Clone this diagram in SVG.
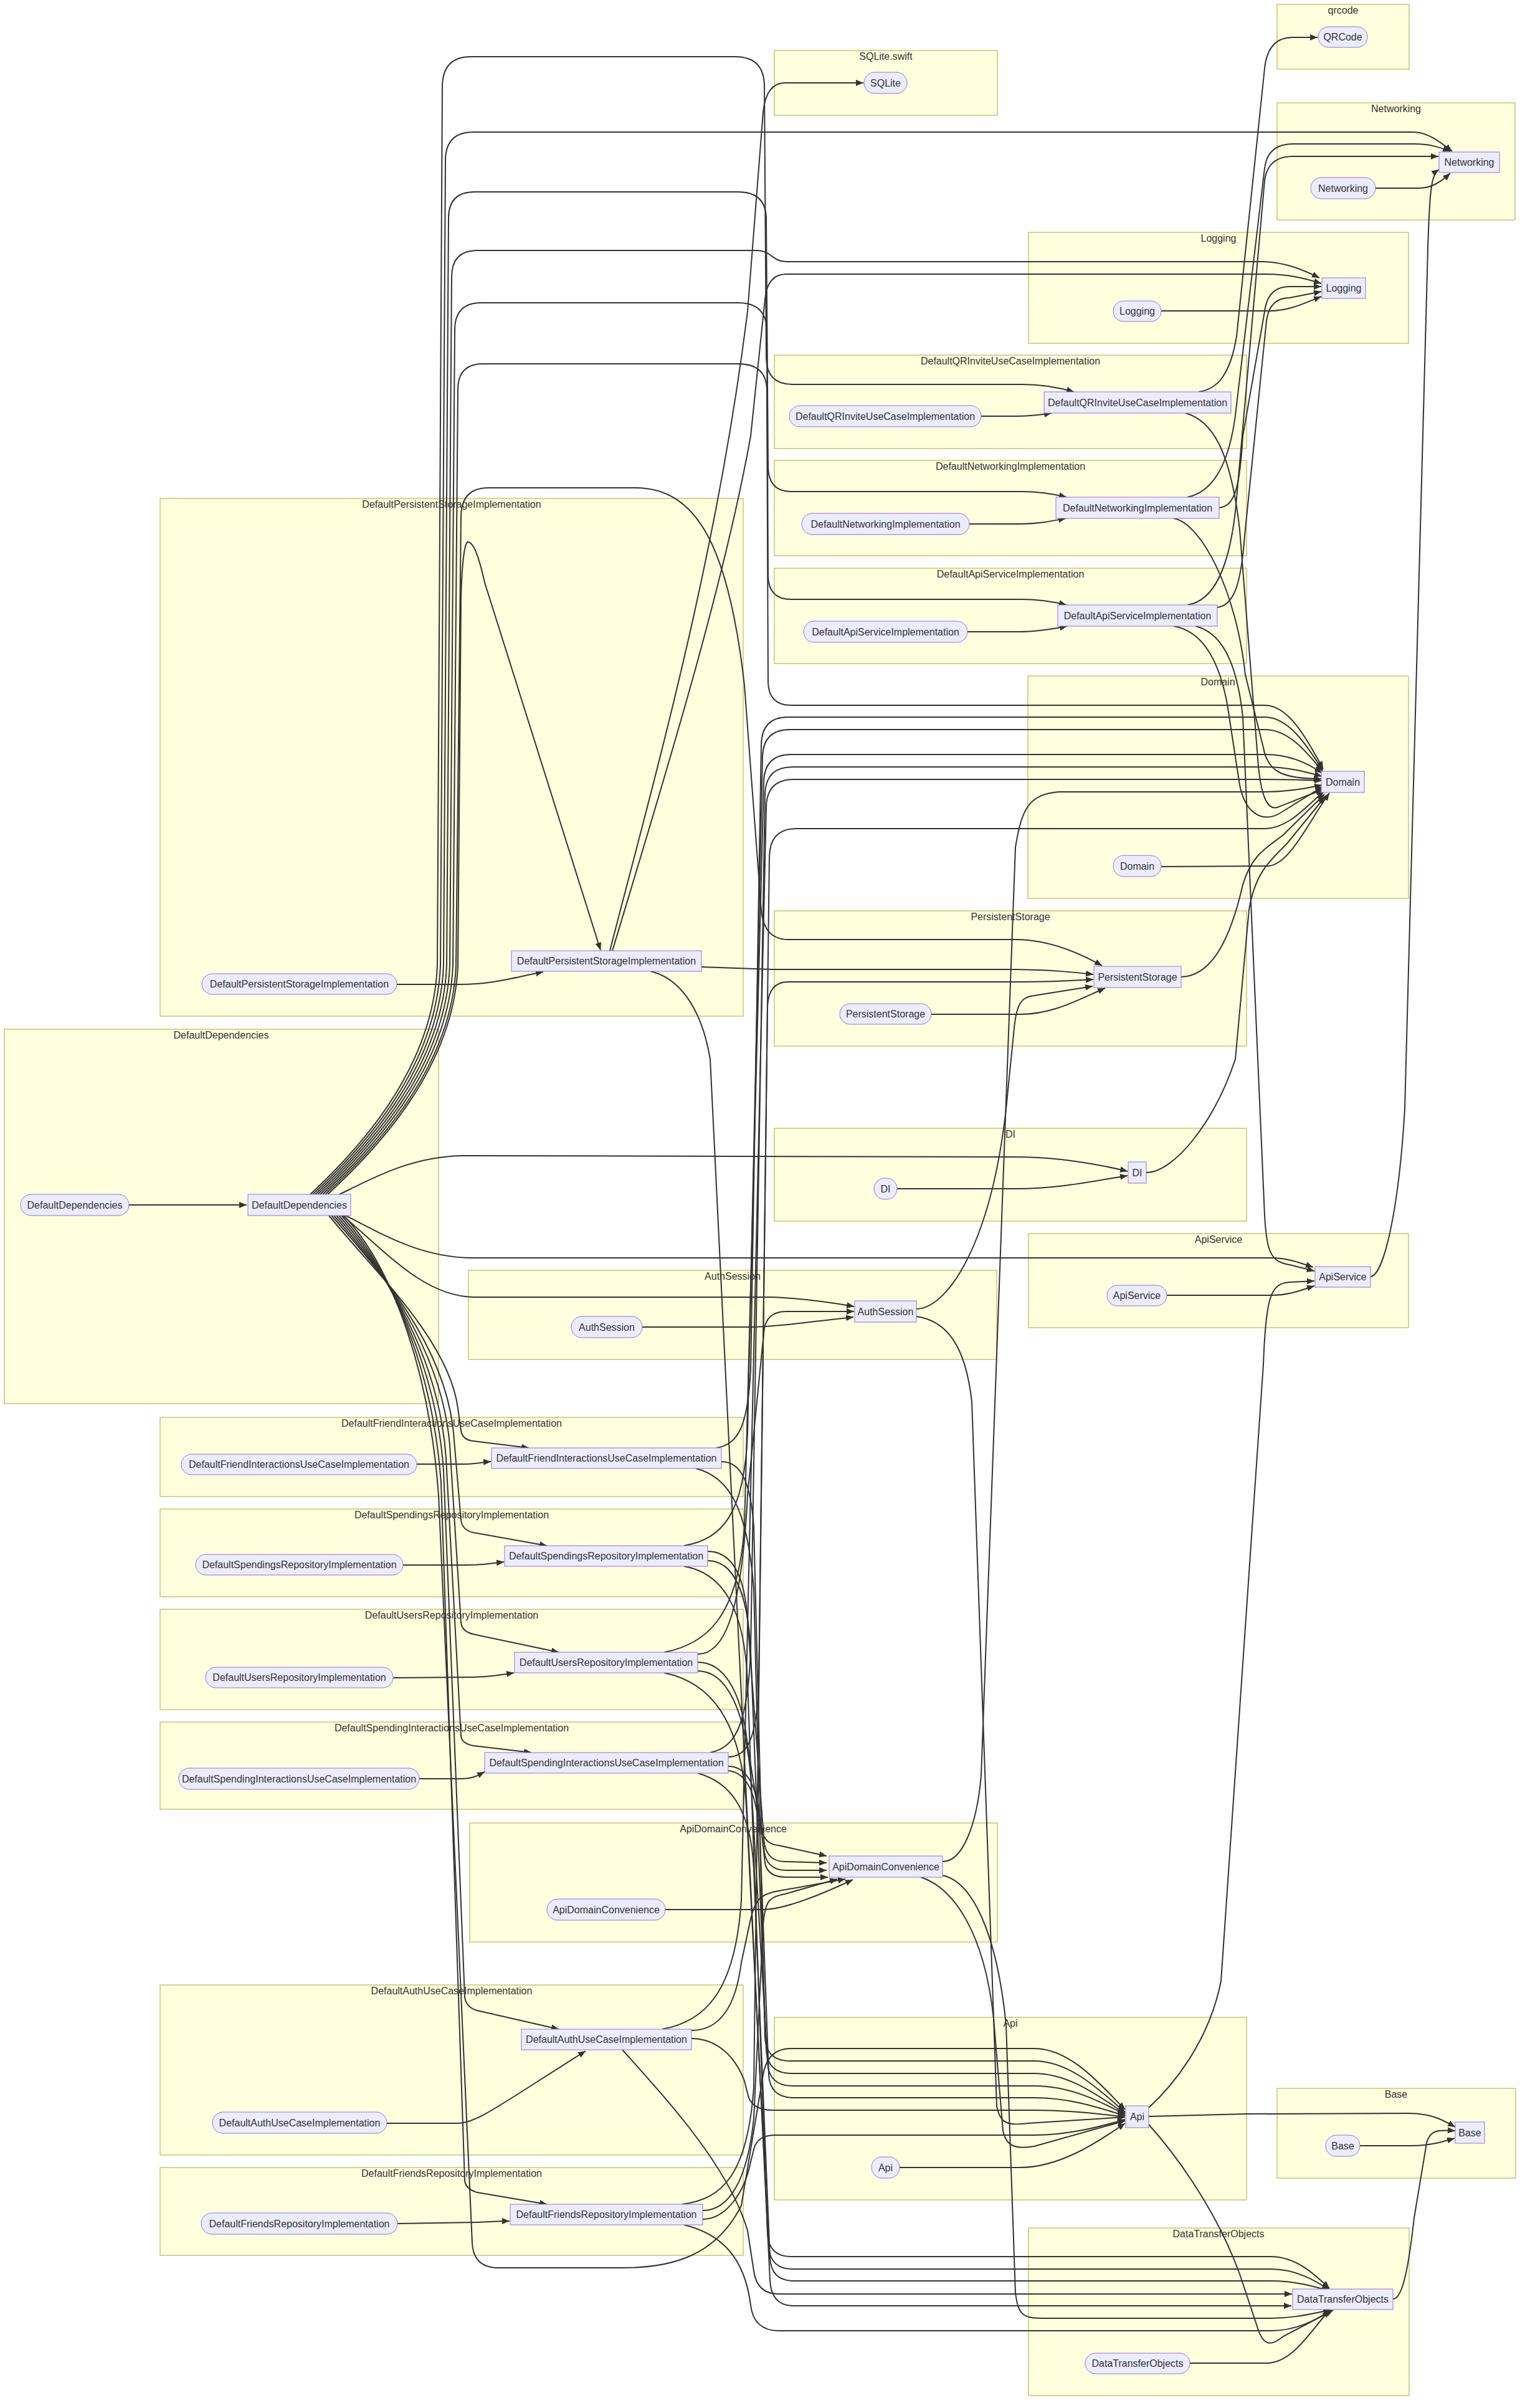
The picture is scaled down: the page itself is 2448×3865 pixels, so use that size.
<svg xmlns="http://www.w3.org/2000/svg" width="2448" height="3865" viewBox="0 0 2448 3865">
<style>
text{font-family:"Liberation Sans",Arial,sans-serif;font-size:16px;fill:#333;text-anchor:middle}
.cl rect{fill:#ffffde;stroke:#aaaa33;stroke-width:1}
.nd rect{fill:#ECECFF;stroke:#9370DB;stroke-width:1}
.ed path{fill:none;stroke:#333;stroke-width:2;marker-end:url(#arr)}
</style>
<defs>
<marker id="arr" viewBox="0 0 12 10" refX="12" refY="5" markerWidth="12" markerHeight="10" markerUnits="userSpaceOnUse" orient="auto">
<path d="M0,0 L12,5 L0,10 z" fill="#333"/>
</marker>
</defs>
<rect width="2448" height="3865" fill="#fff"/>
<g id="clusters" class="cl">
<g id="c-qrcode"><rect x="2050" y="7" width="212" height="104"/><text x="2156" y="22">qrcode</text></g>
<g id="c-networking"><rect x="2050" y="165" width="382" height="188"/><text x="2241" y="180">Networking</text></g>
<g id="c-sqlite"><rect x="1243" y="81" width="358" height="104"/><text x="1422" y="96">SQLite.swift</text></g>
<g id="c-logging"><rect x="1651" y="373" width="610" height="178"/><text x="1956" y="388">Logging</text></g>
<g id="c-dqr"><rect x="1243" y="570" width="758" height="150"/><text x="1622" y="585">DefaultQRInviteUseCaseImplementation</text></g>
<g id="c-dni"><rect x="1243" y="739" width="758" height="153"/><text x="1622" y="754">DefaultNetworkingImplementation</text></g>
<g id="c-das"><rect x="1243" y="912" width="758" height="153"/><text x="1622" y="927">DefaultApiServiceImplementation</text></g>
<g id="c-dps"><rect x="257" y="800" width="936" height="831"/><text x="725" y="815">DefaultPersistentStorageImplementation</text></g>
<g id="c-domain"><rect x="1650" y="1085" width="611" height="357"/><text x="1955" y="1100">Domain</text></g>
<g id="c-ps"><rect x="1243" y="1462" width="758" height="217"/><text x="1622" y="1477">PersistentStorage</text></g>
<g id="c-dd"><rect x="7" y="1652" width="697" height="601"/><text x="355" y="1667">DefaultDependencies</text></g>
<g id="c-di"><rect x="1243" y="1811" width="758" height="149"/><text x="1622" y="1826">DI</text></g>
<g id="c-apiservice"><rect x="1651" y="1980" width="610" height="151"/><text x="1956" y="1995">ApiService</text></g>
<g id="c-auth"><rect x="752" y="2039" width="848" height="143"/><text x="1176" y="2054">AuthSession</text></g>
<g id="c-dfi"><rect x="257" y="2275" width="936" height="127"/><text x="725" y="2290">DefaultFriendInteractionsUseCaseImplementation</text></g>
<g id="c-dsr"><rect x="257" y="2422" width="936" height="141"/><text x="725" y="2437">DefaultSpendingsRepositoryImplementation</text></g>
<g id="c-dur"><rect x="257" y="2583" width="936" height="161"/><text x="725" y="2598">DefaultUsersRepositoryImplementation</text></g>
<g id="c-dsi"><rect x="257" y="2764" width="936" height="140"/><text x="725" y="2779">DefaultSpendingInteractionsUseCaseImplementation</text></g>
<g id="c-adc"><rect x="754" y="2926" width="847" height="191"/><text x="1177" y="2941">ApiDomainConvenience</text></g>
<g id="c-dau"><rect x="257" y="3186" width="936" height="273"/><text x="725" y="3201">DefaultAuthUseCaseImplementation</text></g>
<g id="c-dfr"><rect x="257" y="3479" width="936" height="141"/><text x="725" y="3494">DefaultFriendsRepositoryImplementation</text></g>
<g id="c-api"><rect x="1243" y="3238" width="758" height="293"/><text x="1622" y="3253">Api</text></g>
<g id="c-base"><rect x="2050" y="3352" width="383" height="144"/><text x="2241" y="3367">Base</text></g>
<g id="c-dto"><rect x="1651" y="3576" width="611" height="269"/><text x="1956" y="3591">DataTransferObjects</text></g>
</g>
<g id="edges" class="ed">
<!-- product to target inside each package -->
<path d="M207,1934 L396,1934"/>
<path d="M637,1580 L740,1580 C790,1580 825,1569 872,1560"/>
<path d="M669,2350 L745,2350 C763,2350 772,2347 788,2346"/>
<path d="M647,2512 L750,2512 C775,2512 790,2509 809,2507"/>
<path d="M631,2693 L751,2692 C780,2692 800,2689 825,2685"/>
<path d="M673,2855 L742,2855 C760,2855 768,2849 778,2844"/>
<path d="M621,3408 L735,3408 C765,3408 800,3380 940,3292"/>
<path d="M638,3569 L767,3567 C790,3566 803,3565 818,3565"/>
<path d="M1031,2130 L1200,2130 C1240,2130 1300,2122 1370,2114"/>
<path d="M1068,3065 L1225,3065 C1260,3065 1320,3040 1369,3017"/>
<path d="M1575,668 L1629,668 C1655,668 1670,666 1688,663"/>
<path d="M1556,841 L1635,841 C1665,841 1685,837 1711,832"/>
<path d="M1553,1014 L1635,1014 C1665,1014 1688,1010 1713,1005"/>
<path d="M1495,1628 L1638,1628 C1690,1628 1730,1605 1774,1586"/>
<path d="M1440,1908 L1631,1908 C1700,1908 1760,1895 1810,1887"/>
<path d="M1444,3479 L1637,3479 C1700,3479 1760,3440 1806,3408"/>
<path d="M1864,499 L2039,499 C2070,499 2095,486 2121,476"/>
<path d="M1864,1391 L2036,1390 C2070,1388 2100,1320 2134,1273"/>
<path d="M1873,2079 L2042,2079 C2070,2079 2090,2070 2110,2064"/>
<path d="M1910,3793 L2033,3793 C2075,3793 2105,3740 2134,3708"/>
<path d="M2208,302 L2277,302 C2300,302 2315,290 2328,278"/>
<path d="M2183,3444 L2265,3444 C2295,3444 2315,3438 2335,3432"/>
<!-- DefaultDependencies -->
<path d="M498,1917 C570,1850 695,1720 702,1550 L710,140 Q710,91 756,91 L1180,91 Q1226,91 1227,137 L1230,575 Q1231,617 1272,617 L1640,617 C1675,617 1700,622 1724,629"/>
<path d="M502,1917 C574,1850 700,1720 707,1550 L715,258 Q715,212 760,212 L2268,212 C2292,212 2312,228 2331,243"/>
<path d="M506,1917 C578,1850 705,1720 712,1550 L720,350 Q720,308 762,308 L1185,308 Q1229,308 1230,350 L1233,750 Q1234,789 1270,789 L1640,789 C1670,789 1692,793 1712,798"/>
<path d="M510,1917 C582,1850 710,1720 717,1550 L725,445 Q725,402 766,402 L1215,402 C1238,402 1240,420 1262,420 L2025,420 C2060,420 2090,432 2118,446"/>
<path d="M514,1917 C586,1850 715,1720 722,1550 L730,530 Q730,486 772,486 L1185,486 Q1230,486 1231,530 L1233,925 Q1234,962 1270,962 L1640,962 C1670,962 1692,966 1712,971"/>
<path d="M518,1917 C590,1850 720,1720 727,1550 L735,625 Q735,584 775,584 L1185,584 Q1230,584 1231,625 L1233,1095 Q1234,1132 1270,1132 L2030,1132 C2070,1132 2100,1190 2124,1234"/>
<path d="M522,1917 C594,1850 725,1720 732,1550 L740,830 Q740,783 784,783 L1020,783 C1120,783 1170,880 1195,1100 L1222,1460 Q1226,1508 1265,1508 L1630,1508 C1680,1508 1730,1528 1769,1550"/>
<path d="M526,1917 C598,1850 728,1720 735,1550 L740,960 C742,890 747,868 752,870 C762,872 770,900 778,935 L964,1525"/>
<path d="M545,1917 C600,1890 660,1857 740,1855 L1630,1857 C1700,1857 1760,1868 1810,1880"/>
<path d="M555,1951 C620,1985 680,2019 760,2019 L2040,2019 C2065,2019 2085,2026 2108,2034"/>
<path d="M550,1951 C620,2010 680,2080 760,2082 L1240,2082 C1290,2084 1330,2090 1371,2097"/>
<path d="M528,1951 C600,2040 720,2150 735,2260 L740,2296 Q742,2311 760,2313 L849,2324"/>
<path d="M532,1951 C610,2040 715,2160 728,2300 L740,2440 Q742,2456 760,2460 L878,2481"/>
<path d="M536,1951 C615,2040 710,2170 722,2320 L740,2605 Q742,2619 760,2623 L897,2652"/>
<path d="M540,1951 C620,2040 705,2180 716,2340 L740,2787 Q742,2799 760,2802 L853,2813"/>
<path d="M544,1951 C625,2040 700,2190 712,2360 L746,3205 Q748,3222 766,3227 L897,3257"/>
<path d="M548,1951 C630,2040 695,2200 708,2380 L746,3500 Q748,3514 766,3519 L878,3538"/>
<path d="M552,1951 C635,2040 690,2210 704,2400 L758,3600 Q760,3640 800,3640 L1000,3640 C1080,3640 1150,3620 1190,3540 L1225,3330 Q1232,3288 1270,3288 L1660,3288 C1720,3288 1770,3350 1806,3386"/>
<!-- DefaultPersistentStorageImplementation -->
<path d="M979,1526 C1050,1250 1150,900 1200,500 L1225,180 Q1230,133 1260,133 L1386,133"/>
<path d="M983,1526 C1060,1270 1160,950 1205,700 L1228,480 Q1232,440 1262,440 L2030,440 C2070,440 2095,447 2121,455"/>
<path d="M1126,1552 L1240,1556 L1630,1556 C1690,1557 1720,1560 1755,1564"/>
<path d="M1044,1559 C1085,1568 1125,1610 1140,1700 L1236,3660 Q1238,3701 1274,3701 L2073,3701"/>
<!-- DefaultQRInviteUseCaseImplementation -->
<path d="M1924,629 C1955,625 1975,600 1985,540 L2030,110 Q2035,60 2075,60 L2115,60"/>
<path d="M1903,663 C1945,675 1975,720 1990,850 L2020,1230 C2025,1280 2035,1300 2050,1296 C2080,1285 2100,1275 2124,1268"/>
<!-- DefaultNetworkingImplementation -->
<path d="M1906,798 C1945,790 1975,750 1985,650 L2030,270 Q2035,231 2075,231 L2270,231 C2295,231 2310,236 2328,243"/>
<path d="M1957,815 C1980,812 1990,790 1995,700 L2030,500 Q2035,460 2070,460 L2121,460"/>
<path d="M1884,832 C1929,840 1985,950 1999,1083 L2028,1200 C2035,1240 2060,1250 2121,1250"/>
<!-- DefaultApiServiceImplementation -->
<path d="M1906,971 C1945,965 1975,920 1985,800 L2030,290 Q2035,251 2075,251 L2309,251"/>
<path d="M1954,975 C1980,972 1992,940 1998,860 L2033,515 Q2038,478 2070,478 L2121,468"/>
<path d="M1884,1005 C1925,1012 1955,1050 1970,1130 L1990,1260 C2000,1310 2030,1320 2055,1305 L2124,1262"/>
<path d="M1919,1005 C1960,1015 1985,1060 1995,1150 L2030,1950 C2033,2010 2040,2025 2070,2030 L2110,2040"/>
<!-- PersistentStorage, DI, ApiService -->
<path d="M1896,1568 C1935,1567 1970,1530 1995,1420 C2010,1370 2035,1360 2060,1340 L2126,1275"/>
<path d="M1840,1882 C1885,1882 1950,1800 1983,1700 L2005,1460 C2015,1400 2040,1380 2065,1355 L2127,1279"/>
<path d="M2200,2049 C2220,2048 2245,1950 2255,1780 L2292,400 C2295,300 2298,280 2310,272"/>
<!-- AuthSession -->
<path d="M1471,2101 C1520,2100 1590,2000 1615,1780 L1628,1650 C1632,1610 1640,1600 1660,1598 L1754,1583"/>
<path d="M1471,2113 C1520,2120 1550,2160 1560,2250 L1600,3380 C1605,3410 1620,3412 1650,3408 L1806,3398"/>
<!-- ApiDomainConvenience -->
<path d="M1513,2988 C1545,2988 1568,2930 1575,2850 L1630,1360 C1640,1300 1650,1275 1700,1271 L2030,1271 C2070,1271 2100,1265 2122,1260"/>
<path d="M1478,3013 C1530,3030 1580,3100 1595,3240 L1610,3420 C1615,3445 1630,3450 1660,3445 L1806,3404"/>
<path d="M1513,3010 C1560,3020 1600,3100 1615,3250 L1630,3680 C1635,3720 1645,3721 1680,3721 L2040,3721 C2080,3721 2110,3712 2136,3708"/>
<!-- Api, DataTransferObjects -->
<path d="M1844,3383 C1880,3350 1940,3280 1960,3180 L2028,2190 C2032,2080 2040,2060 2070,2058 L2110,2056"/>
<path d="M1844,3397 L2000,3393 L2260,3392 C2300,3392 2320,3405 2336,3414"/>
<path d="M1844,3410 C1880,3450 1950,3540 1990,3650 L2020,3740 C2030,3770 2045,3762 2060,3750 L2140,3708"/>
<path d="M2236,3690 C2250,3690 2260,3650 2270,3560 L2290,3440 C2295,3420 2305,3418 2336,3420"/>
<!-- DefaultFriendInteractionsUseCaseImplementation -->
<path d="M1150,2324 C1185,2318 1200,2290 1205,2200 L1222,1195 Q1223,1151 1265,1151 L2030,1151 C2070,1151 2100,1200 2123,1236"/>
<path d="M1158,2346 C1190,2346 1205,2380 1210,2450 L1222,2930 Q1224,2960 1250,2962 L1327,2979"/>
<path d="M1117,2357 C1170,2370 1200,2420 1210,2550 L1228,3270 Q1230,3308 1268,3308 L1660,3308 C1720,3308 1770,3360 1806,3390"/>
<!-- DefaultSpendingsRepositoryImplementation -->
<path d="M1098,2481 C1160,2470 1195,2430 1200,2300 L1224,1215 Q1225,1171 1268,1171 L2030,1171 C2070,1171 2100,1210 2123,1238"/>
<path d="M1136,2490 C1170,2490 1195,2520 1200,2600 L1226,2950 Q1228,2988 1260,2988 L1327,2990"/>
<path d="M1136,2505 C1175,2505 1200,2550 1205,2650 L1230,3290 Q1232,3328 1270,3328 L1660,3328 C1720,3328 1770,3370 1806,3392"/>
<path d="M1098,2514 C1160,2525 1195,2580 1200,2700 L1232,3585 Q1234,3622 1270,3622 L2040,3622 C2080,3622 2110,3650 2134,3673"/>
<!-- DefaultUsersRepositoryImplementation -->
<path d="M1066,2652 C1130,2640 1185,2600 1195,2450 L1226,1255 Q1227,1211 1270,1211 L2030,1211 C2070,1211 2100,1225 2122,1241"/>
<path d="M1120,2655 C1160,2655 1190,2600 1200,2400 L1226,2140 Q1228,2105 1262,2105 L1371,2105"/>
<path d="M1120,2668 C1160,2668 1190,2710 1200,2800 L1226,2965 Q1228,3002 1262,3002 L1327,3002"/>
<path d="M1120,2682 C1165,2682 1195,2740 1205,2850 L1232,3310 Q1234,3348 1272,3348 L1660,3348 C1720,3348 1770,3375 1806,3394"/>
<path d="M1066,2685 C1140,2700 1190,2760 1198,2900 L1234,3605 Q1236,3642 1272,3642 L2040,3642 C2080,3642 2110,3660 2134,3675"/>
<!-- DefaultSpendingInteractionsUseCaseImplementation -->
<path d="M1140,2813 C1180,2805 1200,2770 1205,2650 L1228,1275 Q1229,1231 1272,1231 L2030,1231 C2070,1231 2100,1240 2122,1246"/>
<path d="M1169,2820 C1200,2820 1215,2790 1218,2700 L1232,1615 Q1234,1576 1265,1576 L1633,1576 C1690,1576 1720,1574 1755,1572"/>
<path d="M1169,2835 C1200,2835 1215,2870 1220,2920 L1228,2990 Q1232,3013 1262,3013 L1329,3013"/>
<path d="M1169,2842 C1200,2845 1215,2880 1220,2950 L1234,3330 Q1236,3367 1274,3367 L1660,3367 C1720,3367 1770,3385 1806,3396"/>
<path d="M1120,2846 C1170,2860 1205,2900 1210,3000 L1236,3624 Q1238,3661 1274,3661 L2040,3661 C2080,3661 2110,3670 2134,3677"/>
<!-- DefaultAuthUseCaseImplementation -->
<path d="M1063,3257 C1130,3245 1180,3200 1190,3050 L1230,1295 Q1231,1251 1274,1251 L2030,1251 C2070,1251 2100,1252 2122,1253"/>
<path d="M1110,3259 C1150,3259 1180,3230 1190,3150 L1205,3080 C1212,3050 1220,3040 1250,3035 L1357,3016"/>
<path d="M1110,3272 C1150,3272 1180,3300 1195,3340 L1200,3360 Q1205,3387 1240,3387 L1660,3387 C1720,3387 1770,3393 1806,3398"/>
<path d="M999,3290 C1080,3380 1170,3480 1200,3580 L1210,3645 Q1215,3682 1250,3682 L2074,3682"/>
<!-- DefaultFriendsRepositoryImplementation -->
<path d="M1095,3538 C1160,3530 1200,3490 1210,3350 L1235,1375 Q1236,1330 1278,1330 L2030,1330 C2070,1330 2100,1290 2126,1270"/>
<path d="M1128,3548 C1170,3548 1200,3500 1210,3400 L1225,3090 C1228,3050 1235,3045 1260,3040 L1344,3016"/>
<path d="M1128,3562 C1165,3562 1195,3520 1205,3470 L1210,3450 Q1215,3427 1245,3427 L1660,3427 C1720,3427 1770,3412 1806,3402"/>
<path d="M1098,3571 C1155,3585 1195,3620 1205,3700 Q1210,3741 1250,3741 L2040,3741 C2080,3741 2110,3725 2137,3708"/>
</g>
<g id="nodes" class="nd">
<g id="n-qrcode"><rect x="2116" y="43" width="79" height="33" rx="16.5"/><text x="2155.5" y="65">QRCode</text></g>
<g id="n-networking-p"><rect x="2104" y="285" width="104" height="34" rx="17"/><text x="2156" y="307.5">Networking</text></g>
<g id="n-networking"><rect x="2310" y="244" width="97" height="33"/><text x="2358.5" y="266">Networking</text></g>
<g id="n-sqlite"><rect x="1387" y="116" width="69" height="34" rx="17"/><text x="1421.5" y="138.5">SQLite</text></g>
<g id="n-logging-p"><rect x="1787" y="483" width="77" height="33" rx="16.5"/><text x="1825.5" y="505">Logging</text></g>
<g id="n-logging"><rect x="2122" y="446" width="70" height="33"/><text x="2157" y="468">Logging</text></g>
<g id="n-dqr-p"><rect x="1267" y="651" width="308" height="34" rx="17"/><text x="1421" y="673.5">DefaultQRInviteUseCaseImplementation</text></g>
<g id="n-dqr"><rect x="1676" y="629" width="300" height="34"/><text x="1826" y="651.5">DefaultQRInviteUseCaseImplementation</text></g>
<g id="n-dni-p"><rect x="1287" y="824" width="269" height="34" rx="17"/><text x="1421.5" y="846.5">DefaultNetworkingImplementation</text></g>
<g id="n-dni"><rect x="1695" y="798" width="262" height="34"/><text x="1826" y="820.5">DefaultNetworkingImplementation</text></g>
<g id="n-das-p"><rect x="1290" y="997" width="263" height="34" rx="17"/><text x="1421.5" y="1019.5">DefaultApiServiceImplementation</text></g>
<g id="n-das"><rect x="1698" y="971" width="256" height="34"/><text x="1826" y="993.5">DefaultApiServiceImplementation</text></g>
<g id="n-domain-p"><rect x="1787" y="1373" width="77" height="34" rx="17"/><text x="1825.5" y="1395.5">Domain</text></g>
<g id="n-domain"><rect x="2121" y="1238" width="69" height="34"/><text x="2155.5" y="1260.5">Domain</text></g>
<g id="n-dps-p"><rect x="324" y="1563" width="313" height="33" rx="16.5"/><text x="480.5" y="1585">DefaultPersistentStorageImplementation</text></g>
<g id="n-dps"><rect x="821" y="1526" width="305" height="33"/><text x="973.5" y="1548">DefaultPersistentStorageImplementation</text></g>
<g id="n-ps-p"><rect x="1348" y="1611" width="147" height="33" rx="16.5"/><text x="1421.5" y="1633">PersistentStorage</text></g>
<g id="n-ps"><rect x="1756" y="1551" width="140" height="34"/><text x="1826" y="1573.5">PersistentStorage</text></g>
<g id="n-dd-p"><rect x="33" y="1917" width="174" height="34" rx="17"/><text x="120" y="1939.5">DefaultDependencies</text></g>
<g id="n-dd"><rect x="398" y="1917" width="165" height="34"/><text x="480.5" y="1939.5">DefaultDependencies</text></g>
<g id="n-di-p"><rect x="1403" y="1891" width="37" height="34" rx="17"/><text x="1421.5" y="1913.5">DI</text></g>
<g id="n-di"><rect x="1811" y="1865" width="29" height="34"/><text x="1825.5" y="1887.5">DI</text></g>
<g id="n-apiservice-p"><rect x="1777" y="2063" width="96" height="33" rx="16.5"/><text x="1825" y="2085">ApiService</text></g>
<g id="n-apiservice"><rect x="2111" y="2033" width="89" height="33"/><text x="2155.5" y="2055">ApiService</text></g>
<g id="n-auth-p"><rect x="917" y="2113" width="114" height="34" rx="17"/><text x="974" y="2135.5">AuthSession</text></g>
<g id="n-auth"><rect x="1372" y="2088" width="99" height="34"/><text x="1421.5" y="2110.5">AuthSession</text></g>
<g id="n-dfi-p"><rect x="291" y="2334" width="378" height="33" rx="16.5"/><text x="480" y="2356">DefaultFriendInteractionsUseCaseImplementation</text></g>
<g id="n-dfi"><rect x="789" y="2324" width="369" height="33"/><text x="973.5" y="2346">DefaultFriendInteractionsUseCaseImplementation</text></g>
<g id="n-dsr-p"><rect x="314" y="2495" width="333" height="33" rx="16.5"/><text x="480.5" y="2517">DefaultSpendingsRepositoryImplementation</text></g>
<g id="n-dsr"><rect x="810" y="2481" width="326" height="33"/><text x="973" y="2503">DefaultSpendingsRepositoryImplementation</text></g>
<g id="n-dur-p"><rect x="330" y="2676" width="301" height="33" rx="16.5"/><text x="480.5" y="2698">DefaultUsersRepositoryImplementation</text></g>
<g id="n-dur"><rect x="826" y="2652" width="294" height="33"/><text x="973" y="2674">DefaultUsersRepositoryImplementation</text></g>
<g id="n-dsi-p"><rect x="287" y="2838" width="386" height="34" rx="17"/><text x="480" y="2860.5">DefaultSpendingInteractionsUseCaseImplementation</text></g>
<g id="n-dsi"><rect x="778" y="2813" width="391" height="33"/><text x="973.5" y="2835">DefaultSpendingInteractionsUseCaseImplementation</text></g>
<g id="n-adc-p"><rect x="878" y="3048" width="190" height="34" rx="17"/><text x="973" y="3070.5">ApiDomainConvenience</text></g>
<g id="n-adc"><rect x="1331" y="2979" width="182" height="34"/><text x="1422" y="3001.5">ApiDomainConvenience</text></g>
<g id="n-dau-p"><rect x="341" y="3390" width="280" height="34" rx="17"/><text x="481" y="3412.5">DefaultAuthUseCaseImplementation</text></g>
<g id="n-dau"><rect x="837" y="3257" width="273" height="33"/><text x="973.5" y="3279">DefaultAuthUseCaseImplementation</text></g>
<g id="n-dfr-p"><rect x="323" y="3552" width="315" height="34" rx="17"/><text x="480.5" y="3574.5">DefaultFriendsRepositoryImplementation</text></g>
<g id="n-dfr"><rect x="819" y="3538" width="309" height="33"/><text x="973.5" y="3560">DefaultFriendsRepositoryImplementation</text></g>
<g id="n-api-p"><rect x="1399" y="3462" width="45" height="34" rx="17"/><text x="1421.5" y="3484.5">Api</text></g>
<g id="n-api"><rect x="1807" y="3380" width="37" height="35"/><text x="1825.5" y="3403">Api</text></g>
<g id="n-base-p"><rect x="2128" y="3427" width="55" height="34" rx="17"/><text x="2155.5" y="3449.5">Base</text></g>
<g id="n-base"><rect x="2336" y="3406" width="47" height="34"/><text x="2359.5" y="3428.5">Base</text></g>
<g id="n-dto-p"><rect x="1742" y="3777" width="168" height="33" rx="16.5"/><text x="1826" y="3799">DataTransferObjects</text></g>
<g id="n-dto"><rect x="2075" y="3674" width="161" height="33"/><text x="2155.5" y="3696">DataTransferObjects</text></g>
</g>
</svg>
